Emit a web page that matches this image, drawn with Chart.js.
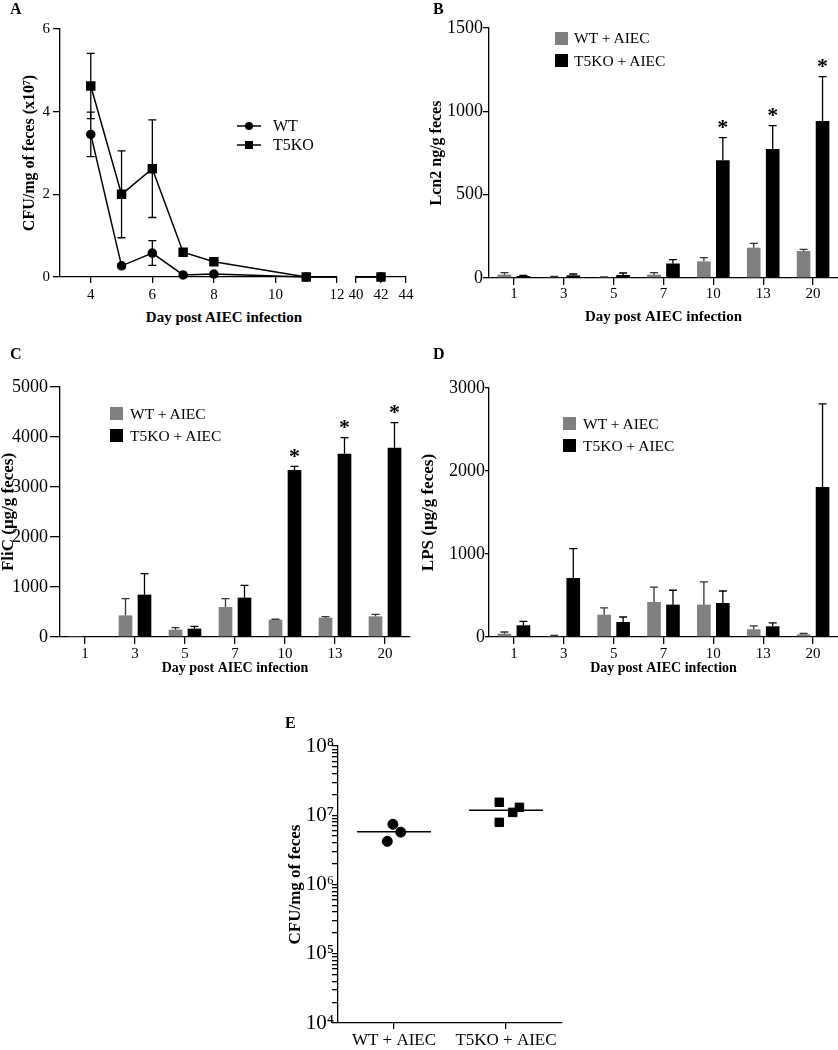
<!DOCTYPE html>
<html>
<head>
<meta charset="utf-8">
<script src="https://cdn.jsdelivr.net/npm/chart.js@4.4.1/dist/chart.umd.min.js"></script>
<style>
  body { margin: 0; background: #fff; }
  #fig { position: relative; width: 838px; height: 1050px; overflow: hidden; color: #000;
         font-family: 'Liberation Serif', 'Times New Roman', serif; }
  #fig canvas { position: absolute; }
  .letter { position: absolute; font-weight: bold; font-size: 16px; line-height: 16px; }
  .lg { position: absolute; font-size: 15.5px; line-height: 18px; white-space: nowrap; }
  .lgA { position: absolute; font-size: 16px; line-height: 18px; white-space: nowrap; }
  .sw { position: absolute; width: 13px; height: 13px; }
  .xt { position: absolute; font-weight: bold; font-size: 15px; line-height: 18px; text-align: center; white-space: nowrap; }
  svg { position: absolute; }
</style>
</head>
<body>
<div id="fig">
  <canvas id="chartA1" width="346" height="300" style="left:0;top:0"></canvas>
  <canvas id="chartA2" width="74" height="300" style="left:346px;top:0"></canvas>
  <canvas id="chartB" width="418" height="330" style="left:420px;top:0"></canvas>
  <canvas id="chartC" width="420" height="345" style="left:0;top:340px"></canvas>
  <canvas id="chartD" width="418" height="345" style="left:420px;top:340px"></canvas>
  <canvas id="chartE" width="330" height="350" style="left:250px;top:700px"></canvas>

  <div class="letter" style="left:10px;top:1px">A</div>
  <div class="letter" style="left:433px;top:1px">B</div>
  <div class="letter" style="left:10px;top:346px">C</div>
  <div class="letter" style="left:433px;top:346px">D</div>
  <div class="letter" style="left:285px;top:715px">E</div>

  <div class="xt" style="left:124px;top:308px;width:200px">Day post AIEC infection</div>

  <svg width="24" height="12" style="left:237px;top:120px"><line x1="0" y1="6" x2="24" y2="6" stroke="#000" stroke-width="1.5"/><circle cx="12" cy="6" r="4" fill="#000"/></svg>
  <div class="lgA" style="left:273px;top:117px">WT</div>
  <svg width="24" height="12" style="left:237px;top:139px"><line x1="0" y1="6" x2="24" y2="6" stroke="#000" stroke-width="1.5"/><rect x="8" y="2" width="8" height="8" fill="#000"/></svg>
  <div class="lgA" style="left:273px;top:136px">T5KO</div>

  <div class="sw" style="left:555px;top:32px;background:#808080"></div>
  <div class="lg" style="left:574px;top:29px">WT + AIEC</div>
  <div class="sw" style="left:555px;top:54px;background:#000"></div>
  <div class="lg" style="left:574px;top:52px">T5KO + AIEC</div>

  <div class="sw" style="left:110px;top:407px;background:#808080"></div>
  <div class="lg" style="left:130px;top:405px">WT + AIEC</div>
  <div class="sw" style="left:110px;top:429px;background:#000"></div>
  <div class="lg" style="left:130px;top:427px">T5KO + AIEC</div>

  <div class="sw" style="left:563px;top:417px;background:#808080"></div>
  <div class="lg" style="left:583px;top:415px">WT + AIEC</div>
  <div class="sw" style="left:563px;top:439px;background:#000"></div>
  <div class="lg" style="left:583px;top:437px">T5KO + AIEC</div>
</div>

<script>
'use strict';

// ---- Panel A: CFU over time ----
var aDays = [4, 5, 6, 7, 8, 11, 42];
var aWt = [3.45, 0.27, 0.58, 0.05, 0.07, 0, 0];
var aWtSem = [0.54, 0.05, 0.30, 0.02, 0.02, 0, 0];
var aKo = [4.62, 2.0, 2.62, 0.60, 0.37, 0, 0];
var aKoSem = [0.79, 1.05, 1.18, 0.05, 0.08, 0, 0];
var aTicksLeft = [4, 6, 8, 10, 12];
var aTicksRight = [40, 42, 44];

// ---- Panels B-D: bars per day ----
var barDays = ['1', '3', '5', '7', '10', '13', '20'];

var lcn2Wt = [20, 5, 3, 20, 100, 182, 162];
var lcn2WtSem = [12, 4, 3, 12, 22, 26, 10];
var lcn2Ko = [12, 16, 18, 87, 706, 774, 942];
var lcn2KoSem = [3, 8, 12, 23, 136, 140, 266];
var lcn2Sig = [0, 0, 0, 0, 1, 1, 1];

var flicWt = [5, 433, 147, 600, 347, 387, 413];
var flicWtSem = [0, 334, 40, 167, 8, 20, 40];
var flicKo = [8, 847, 167, 787, 3340, 3667, 3787];
var flicKoSem = [0, 420, 46, 246, 73, 320, 500];
var flicSig = [0, 0, 0, 0, 1, 1, 1];

var lpsWt = [40, 12, 269, 422, 390, 93, 32];
var lpsWtSem = [20, 6, 81, 180, 273, 40, 10];
var lpsKo = [141, 711, 181, 390, 410, 129, 1807];
var lpsKoSem = [48, 354, 60, 173, 144, 40, 1001];

// ---- Panel E: CFU per mouse ----
var eGroups = ['WT + AIEC', 'T5KO + AIEC'];
var eWtX = [-0.01, 0.06, -0.06];
var eWtY = [7.4e6, 5.7e6, 4.2e6];
var eKoX = [0.94, 1.12, 1.06, 0.94];
var eKoY = [1.54e7, 1.30e7, 1.10e7, 7.9e6];
var eMeans = [5.8e6, 1.18e7];
var eDecades = [4, 5, 6, 7, 8];

Chart.defaults.font.family = "'Liberation Serif', 'Times New Roman', serif";
Chart.defaults.color = '#000';
Chart.defaults.animation = false;
Chart.defaults.responsive = false;
Chart.defaults.plugins.legend.display = false;
Chart.defaults.plugins.tooltip.enabled = false;

// Error bars (mean + SEM) and significance stars, drawn through the y scale
Chart.register({
  id: 'errorBars',
  afterDatasetsDraw: function(chart) {
    var ctx = chart.ctx;
    var area = chart.chartArea;
    chart.data.datasets.forEach(function(ds, di) {
      if (!ds.sem) return;
      var meta = chart.getDatasetMeta(di);
      var yScale = chart.scales[meta.yAxisID];
      ctx.save();
      ctx.strokeStyle = ds.semColor || '#000';
      ctx.lineWidth = 1.3;
      meta.data.forEach(function(el, i) {
        if (el.x < area.left - 2 || el.x > area.right + 2) return;
        var raw = ds.data[i];
        var v = typeof raw === 'object' ? raw.y : raw;
        var e = ds.sem[i];
        var cap = 4;
        if (e > 0) {
          var top = yScale.getPixelForValue(v + e);
          var bot = ds.semBoth ? yScale.getPixelForValue(v - e) : el.y;
          ctx.beginPath();
          ctx.moveTo(el.x, bot);
          ctx.lineTo(el.x, top);
          ctx.moveTo(el.x - cap, top);
          ctx.lineTo(el.x + cap, top);
          if (ds.semBoth) {
            ctx.moveTo(el.x - cap, bot);
            ctx.lineTo(el.x + cap, bot);
          }
          ctx.stroke();
        }
        if (ds.sig && ds.sig[i]) {
          ctx.fillStyle = '#000';
          ctx.font = "bold 22px 'Liberation Serif', serif";
          ctx.textAlign = 'center';
          ctx.textBaseline = 'middle';
          ctx.fillText('*', el.x, yScale.getPixelForValue(v + e) - 9);
        }
      });
      ctx.restore();
    });
  }
});

// ---- Axis helpers ----
function fixBox(size) {
  return function(scale) {
    if (scale.isHorizontal()) scale.height = size;
    else scale.width = size;
    scale.paddingLeft = scale.paddingRight = scale.paddingTop = scale.paddingBottom = 0;
  };
}

function setTicks(values) {
  return function(scale) {
    scale.ticks = values.map(function(v) { return { value: v }; });
  };
}

function plain(v) {
  return String(v);
}

function axis(o) {
  var ticks = {
    padding: o.pad,
    font: { size: o.font },
    color: '#000',
    autoSkip: false,
    maxRotation: 0
  };
  if (o.step) ticks.stepSize = o.step;
  if (o.cb) ticks.callback = o.cb;

  var cfg = {
    type: o.type || 'linear',
    offset: !!o.offset,
    border: { display: true, color: '#000', width: 1.3 },
    grid: { drawOnChartArea: false, offset: false, tickLength: o.tick, color: '#000', lineWidth: 1.3 },
    ticks: ticks,
    title: { display: false },
    afterFit: fixBox(o.box)
  };
  if (o.min !== undefined) cfg.min = o.min;
  if (o.max !== undefined) cfg.max = o.max;
  if (o.tickValues) cfg.afterBuildTicks = setTicks(o.tickValues);
  if (o.title) {
    cfg.title = {
      display: true,
      text: o.title,
      color: '#000',
      font: { size: o.titleSize, weight: 'bold', lineHeight: o.titleLh || 1.2 },
      padding: o.titlePad
    };
  }
  return cfg;
}

// ---- Panel A ----
function aDatasets() {
  var clip = { left: 0, right: 0, top: false, bottom: false };
  return [
    {
      label: 'WT',
      data: aDays.map(function(d, i) { return { x: d, y: aWt[i] }; }),
      sem: aWtSem, semBoth: true,
      showLine: true, borderColor: '#000', backgroundColor: '#000', borderWidth: 1.5,
      pointStyle: 'circle', pointRadius: 4, clip: clip
    },
    {
      label: 'T5KO',
      data: aDays.map(function(d, i) { return { x: d, y: aKo[i] }; }),
      sem: aKoSem, semBoth: true,
      showLine: true, borderColor: '#000', backgroundColor: '#000', borderWidth: 1.5,
      pointStyle: 'rect', pointRadius: 5.6, clip: clip
    }
  ];
}

new Chart(document.getElementById('chartA1'), {
  type: 'scatter',
  data: { datasets: aDatasets() },
  options: {
    layout: { padding: { top: 29, right: 9, bottom: 0, left: 0 } },
    scales: {
      x: axis({ min: 3, max: 12, tick: 6, pad: 3, font: 15, box: 23, tickValues: aTicksLeft, cb: plain }),
      y: axis({ min: 0, max: 6, step: 2, tick: 7, pad: 3, font: 15, box: 60, cb: plain,
        title: 'CFU/mg of feces (x10\u2077)', titleSize: 16, titlePad: { top: 20, bottom: 0 } })
    }
  }
});

new Chart(document.getElementById('chartA2'), {
  type: 'scatter',
  data: { datasets: aDatasets() },
  options: {
    layout: { padding: { top: 29, right: 14, bottom: 0, left: 10 } },
    scales: {
      x: axis({ min: 40, max: 44, tick: 6, pad: 3, font: 15, box: 23, tickValues: aTicksRight, cb: plain }),
      y: { display: false, min: 0, max: 6 }
    }
  }
});

// ---- Panels B-D ----
function barDatasets(wt, wtSem, ko, koSem, sig) {
  return [
    { label: 'WT + AIEC', data: wt, sem: wtSem, semColor: '#333', backgroundColor: '#808080',
      categoryPercentage: 0.76, barPercentage: 0.72 },
    { label: 'T5KO + AIEC', data: ko, sem: koSem, sig: sig, semColor: '#000', backgroundColor: '#000',
      categoryPercentage: 0.76, barPercentage: 0.72 }
  ];
}

function barChart(id, datasets, pad, xBox, xPad, xTitleSize, xTitlePad, yOpts) {
  new Chart(document.getElementById(id), {
    type: 'bar',
    data: { labels: barDays, datasets: datasets },
    options: {
      layout: { padding: pad },
      scales: {
        x: axis({ type: 'category', offset: true, tick: 7, pad: xPad, font: 15, box: xBox,
          title: 'Day post AIEC infection', titleSize: xTitleSize, titlePad: { top: 0, bottom: xTitlePad } }),
        y: axis(yOpts)
      }
    }
  });
}

barChart('chartB', barDatasets(lcn2Wt, lcn2WtSem, lcn2Ko, lcn2KoSem, lcn2Sig),
  { top: 28, right: 0, bottom: 0, left: 0 }, 52, 0, 15, 4,
  { min: 0, max: 1500, step: 500, tick: 6, pad: 0, font: 18, box: 69, cb: plain,
    title: 'Lcn2 ng/g feces', titleSize: 16, titlePad: { top: 7, bottom: 0 } });

barChart('chartC', barDatasets(flicWt, flicWtSem, flicKo, flicKoSem, flicSig),
  { top: 47, right: 10, bottom: 0, left: 0 }, 48, 1, 14, 8,
  { min: 0, max: 5000, step: 1000, tick: 10, pad: 2, font: 18, box: 60, cb: plain,
    title: 'FliC (\u03bcg/g feces)', titleSize: 17, titleLh: 1, titlePad: { top: 0, bottom: 0 } });

barChart('chartD', barDatasets(lpsWt, lpsWtSem, lpsKo, lpsKoSem, null),
  { top: 48, right: 0, bottom: 0, left: 0 }, 48, 1, 14, 8,
  { min: 0, max: 3000, step: 1000, tick: 4, pad: 0, font: 18, box: 69, cb: plain,
    title: 'LPS (\u03bcg/g feces)', titleSize: 17, titleLh: 1, titlePad: { top: 0, bottom: 0 } });

// ---- Panel E ----
var SUP = { '0': '\u2070', '1': '\u00b9', '2': '\u00b2', '3': '\u00b3', '4': '\u2074',
  '5': '\u2075', '6': '\u2076', '7': '\u2077', '8': '\u2078', '9': '\u2079' };

function logLabel(v) {
  var exp = Math.round(Math.log10(v));
  if (Math.abs(v - Math.pow(10, exp)) > 1e-6 * v) return '';
  return '10' + String(exp).split('').map(function(c) { return SUP[c]; }).join('');
}

function eTickValues() {
  var out = [];
  eDecades.forEach(function(d, k) {
    var n = k < eDecades.length - 1 ? 9 : 1;
    for (var m = 1; m <= n; m++) out.push(m * Math.pow(10, d));
  });
  return out;
}

function meanLine(center, mean) {
  return {
    data: [{ x: center - 0.33, y: mean }, { x: center + 0.33, y: mean }],
    showLine: true, pointRadius: 0, borderColor: '#000', borderWidth: 1.5
  };
}

new Chart(document.getElementById('chartE'), {
  type: 'scatter',
  data: {
    datasets: [
      { data: eWtX.map(function(x, i) { return { x: x, y: eWtY[i] }; }),
        pointStyle: 'circle', pointRadius: 5, backgroundColor: '#000', borderColor: '#000' },
      { data: eKoX.map(function(x, i) { return { x: x, y: eKoY[i] }; }),
        pointStyle: 'rect', pointRadius: 6, backgroundColor: '#000', borderColor: '#000' },
      meanLine(0, eMeans[0]),
      meanLine(1, eMeans[1])
    ]
  },
  options: {
    layout: { padding: { top: 46, right: 18, bottom: 0, left: 0 } },
    scales: {
      x: axis({ min: -0.5, max: 1.5, tick: 6, pad: 1, font: 17, box: 27, tickValues: [0, 1],
        cb: function(v) { return eGroups[v]; } }),
      y: axis({ type: 'logarithmic', min: 1e4, max: 1e8, tick: 6, pad: -2, font: 21, box: 88,
        tickValues: eTickValues(), cb: logLabel,
        title: 'CFU/mg of feces', titleSize: 17, titlePad: { top: 35, bottom: 0 } })
    }
  }
});
</script>
</body>
</html>
